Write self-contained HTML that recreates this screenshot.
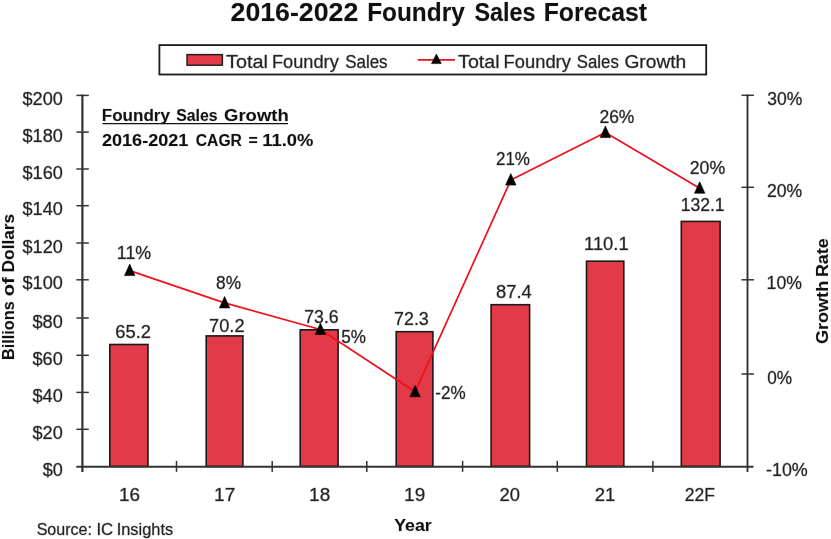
<!DOCTYPE html>
<html lang="en"><head><meta charset="utf-8"><title>2016-2022 Foundry Sales Forecast</title>
<style>html,body{margin:0;padding:0;background:#fff}body{width:831px;height:539px;overflow:hidden}svg{display:block}text{font-family:"Liberation Sans",sans-serif;fill:#222;stroke:#222;stroke-opacity:.3;stroke-width:.9px;stroke-linejoin:round}.b{font-weight:bold;fill:#111;stroke:#111;stroke-opacity:.12}</style></head><body>
<svg width="831" height="539" viewBox="0 0 831 539">
<rect width="831" height="539" fill="#fff"/>
<text y="20.5" font-size="25.20" class="b"><tspan x="230.57" textLength="127.70" lengthAdjust="spacingAndGlyphs">2016-2022</tspan> <tspan x="367.15" textLength="97.62" lengthAdjust="spacingAndGlyphs">Foundry</tspan> <tspan x="474.50" textLength="61.06" lengthAdjust="spacingAndGlyphs">Sales</tspan> <tspan x="543.73" textLength="103.41" lengthAdjust="spacingAndGlyphs">Forecast</tspan></text>
<rect x="159.4" y="45.1" width="546.8" height="29.4" fill="#fff" stroke="#1a1a1a" stroke-width="1.8"/>
<rect x="187" y="54.6" width="35.4" height="10.6" fill="#e23a48" stroke="#1a1a1a" stroke-width="1.4"/>
<text y="67.8" font-size="17.60"><tspan x="226.05" textLength="41.88" lengthAdjust="spacingAndGlyphs">Total</tspan> <tspan x="271.90" textLength="66.87" lengthAdjust="spacingAndGlyphs">Foundry</tspan> <tspan x="345.24" textLength="42.34" lengthAdjust="spacingAndGlyphs">Sales</tspan></text>
<line x1="417.8" y1="59.9" x2="455" y2="59.9" stroke="#f0101c" stroke-width="1.7"/>
<path d="M436.4 54.1 L441.3 63.6 L431.5 63.6 Z" fill="#000" stroke="#000" stroke-width="0.6" stroke-linejoin="round"/>
<text y="67.8" font-size="17.60"><tspan x="458.06" textLength="41.57" lengthAdjust="spacingAndGlyphs">Total</tspan> <tspan x="503.59" textLength="67.28" lengthAdjust="spacingAndGlyphs">Foundry</tspan> <tspan x="576.85" textLength="41.92" lengthAdjust="spacingAndGlyphs">Sales</tspan> <tspan x="624.44" textLength="61.77" lengthAdjust="spacingAndGlyphs">Growth</tspan></text>
<rect x="109.80" y="344.50" width="38.20" height="121.90" fill="#e23a48" stroke="#1a1a1a" stroke-width="1.6"/>
<rect x="206.20" y="335.90" width="36.70" height="130.50" fill="#e23a48" stroke="#1a1a1a" stroke-width="1.6"/>
<rect x="300.20" y="329.80" width="37.90" height="136.60" fill="#e23a48" stroke="#1a1a1a" stroke-width="1.6"/>
<rect x="396.20" y="331.70" width="36.70" height="134.70" fill="#e23a48" stroke="#1a1a1a" stroke-width="1.6"/>
<rect x="491.10" y="304.70" width="38.50" height="161.70" fill="#e23a48" stroke="#1a1a1a" stroke-width="1.6"/>
<rect x="586.50" y="261.20" width="37.30" height="205.20" fill="#e23a48" stroke="#1a1a1a" stroke-width="1.6"/>
<rect x="681.30" y="221.40" width="38.80" height="245.00" fill="#e23a48" stroke="#1a1a1a" stroke-width="1.6"/>
<g stroke="#333" stroke-width="1.9" fill="none">
<line x1="82.4" y1="94.4" x2="82.4" y2="471.9" stroke-width="2.2"/>
<line x1="76.4" y1="466.7" x2="753.5" y2="466.7"/>
<line x1="747.5" y1="94.4" x2="747.5" y2="471.9" stroke-width="1.9"/>
</g><g stroke="#333" stroke-width="1.5" fill="none">
<line x1="76.4" y1="95.4" x2="88.8" y2="95.4"/>
<line x1="76.4" y1="132.1" x2="88.8" y2="132.1"/>
<line x1="76.4" y1="169.0" x2="88.8" y2="169.0"/>
<line x1="76.4" y1="205.7" x2="88.8" y2="205.7"/>
<line x1="76.4" y1="243.0" x2="88.8" y2="243.0"/>
<line x1="76.4" y1="279.8" x2="88.8" y2="279.8"/>
<line x1="76.4" y1="318.0" x2="88.8" y2="318.0"/>
<line x1="76.4" y1="355.3" x2="88.8" y2="355.3"/>
<line x1="76.4" y1="392.4" x2="88.8" y2="392.4"/>
<line x1="76.4" y1="429.3" x2="88.8" y2="429.3"/>
<line x1="741.5" y1="95.3" x2="753.9" y2="95.3"/>
<line x1="741.5" y1="187.3" x2="753.9" y2="187.3"/>
<line x1="741.5" y1="279.8" x2="753.9" y2="279.8"/>
<line x1="741.5" y1="374.0" x2="753.9" y2="374.0"/>
<line x1="176.5" y1="460.9" x2="176.5" y2="471.9"/>
<line x1="272.2" y1="460.9" x2="272.2" y2="471.9"/>
<line x1="366.8" y1="460.9" x2="366.8" y2="471.9"/>
<line x1="462.6" y1="460.9" x2="462.6" y2="471.9"/>
<line x1="557.3" y1="460.9" x2="557.3" y2="471.9"/>
<line x1="652.9" y1="460.9" x2="652.9" y2="471.9"/>
</g>
<text x="22.52" y="104.9" font-size="17.60" textLength="40.30" lengthAdjust="spacingAndGlyphs">$200</text>
<text x="22.52" y="141.6" font-size="17.60" textLength="40.30" lengthAdjust="spacingAndGlyphs">$180</text>
<text x="22.52" y="178.5" font-size="17.60" textLength="40.30" lengthAdjust="spacingAndGlyphs">$160</text>
<text x="22.52" y="215.2" font-size="17.60" textLength="40.30" lengthAdjust="spacingAndGlyphs">$140</text>
<text x="22.52" y="252.5" font-size="17.60" textLength="40.30" lengthAdjust="spacingAndGlyphs">$120</text>
<text x="22.52" y="289.3" font-size="17.60" textLength="40.30" lengthAdjust="spacingAndGlyphs">$100</text>
<text x="32.52" y="327.5" font-size="17.60" textLength="30.28" lengthAdjust="spacingAndGlyphs">$80</text>
<text x="32.52" y="364.8" font-size="17.60" textLength="30.28" lengthAdjust="spacingAndGlyphs">$60</text>
<text x="32.52" y="401.9" font-size="17.60" textLength="30.28" lengthAdjust="spacingAndGlyphs">$40</text>
<text x="32.52" y="438.8" font-size="17.60" textLength="30.28" lengthAdjust="spacingAndGlyphs">$20</text>
<text x="42.72" y="475.8" font-size="17.60" textLength="20.10" lengthAdjust="spacingAndGlyphs">$0</text>
<text x="767.24" y="104.9" font-size="17.60" textLength="35.05" lengthAdjust="spacingAndGlyphs">30%</text>
<text x="767.02" y="196.9" font-size="17.60" textLength="35.28" lengthAdjust="spacingAndGlyphs">20%</text>
<text x="766.58" y="289.4" font-size="17.60" textLength="35.32" lengthAdjust="spacingAndGlyphs">10%</text>
<text x="767.21" y="383.6" font-size="17.60" textLength="24.90" lengthAdjust="spacingAndGlyphs">0%</text>
<text x="765.99" y="475.9" font-size="17.60" textLength="41.82" lengthAdjust="spacingAndGlyphs">-10%</text>
<text x="119.09" y="501.2" font-size="17.60" textLength="21.07" lengthAdjust="spacingAndGlyphs">16</text>
<text x="214.09" y="501.2" font-size="17.60" textLength="21.23" lengthAdjust="spacingAndGlyphs">17</text>
<text x="309.12" y="501.2" font-size="17.60" textLength="21.07" lengthAdjust="spacingAndGlyphs">18</text>
<text x="404.13" y="501.2" font-size="17.60" textLength="21.12" lengthAdjust="spacingAndGlyphs">19</text>
<text x="499.64" y="501.2" font-size="17.60" textLength="20.45" lengthAdjust="spacingAndGlyphs">20</text>
<text x="594.65" y="501.2" font-size="17.60" textLength="20.65" lengthAdjust="spacingAndGlyphs">21</text>
<text x="684.82" y="501.2" font-size="17.60" textLength="30.19" lengthAdjust="spacingAndGlyphs">22F</text>
<polyline points="129.7,270.6 224.6,302.9 320.4,329.5 415.1,391.8 510.8,180.1 605.4,132.6 699.7,188.2" fill="none" stroke="#f0101c" stroke-width="1.7" stroke-linejoin="round"/>
<path d="M129.7 264.1 L134.9 275.6 L124.5 275.6 Z" fill="#000" stroke="#000" stroke-width="0.6" stroke-linejoin="round"/>
<path d="M224.6 296.4 L229.8 307.9 L219.4 307.9 Z" fill="#000" stroke="#000" stroke-width="0.6" stroke-linejoin="round"/>
<path d="M320.4 323.0 L325.6 334.5 L315.2 334.5 Z" fill="#000" stroke="#000" stroke-width="0.6" stroke-linejoin="round"/>
<path d="M415.1 385.3 L420.3 396.8 L409.9 396.8 Z" fill="#000" stroke="#000" stroke-width="0.6" stroke-linejoin="round"/>
<path d="M510.8 173.6 L516.0 185.1 L505.6 185.1 Z" fill="#000" stroke="#000" stroke-width="0.6" stroke-linejoin="round"/>
<path d="M605.4 126.1 L610.6 137.6 L600.2 137.6 Z" fill="#000" stroke="#000" stroke-width="0.6" stroke-linejoin="round"/>
<path d="M699.7 181.7 L704.9 193.2 L694.5 193.2 Z" fill="#000" stroke="#000" stroke-width="0.6" stroke-linejoin="round"/>
<text x="115.28" y="338.1" font-size="17.60" textLength="35.66" lengthAdjust="spacingAndGlyphs">65.2</text>
<text x="209.09" y="331.8" font-size="17.60" textLength="35.45" lengthAdjust="spacingAndGlyphs">70.2</text>
<text x="304.32" y="323.0" font-size="17.60" textLength="34.25" lengthAdjust="spacingAndGlyphs">73.6</text>
<text x="394.11" y="324.9" font-size="17.60" textLength="34.67" lengthAdjust="spacingAndGlyphs">72.3</text>
<text x="496.02" y="297.5" font-size="17.60" textLength="35.71" lengthAdjust="spacingAndGlyphs">87.4</text>
<text x="584.02" y="249.8" font-size="17.60" textLength="44.67" lengthAdjust="spacingAndGlyphs">110.1</text>
<text x="680.68" y="211.2" font-size="17.60" textLength="43.95" lengthAdjust="spacingAndGlyphs">132.1</text>
<text x="116.86" y="259.2" font-size="17.60" textLength="34.36" lengthAdjust="spacingAndGlyphs">11%</text>
<text x="216.07" y="288.5" font-size="17.60" textLength="24.94" lengthAdjust="spacingAndGlyphs">8%</text>
<text x="341.32" y="342.5" font-size="17.60" textLength="24.69" lengthAdjust="spacingAndGlyphs">5%</text>
<text x="435.23" y="398.5" font-size="17.60" textLength="30.34" lengthAdjust="spacingAndGlyphs">-2%</text>
<text x="495.95" y="165.0" font-size="17.60" textLength="34.03" lengthAdjust="spacingAndGlyphs">21%</text>
<text x="599.43" y="122.7" font-size="17.60" textLength="34.97" lengthAdjust="spacingAndGlyphs">26%</text>
<text x="689.71" y="174.1" font-size="17.60" textLength="35.49" lengthAdjust="spacingAndGlyphs">20%</text>
<text y="120.6" font-size="16.80" class="b"><tspan x="101.75" textLength="68.17" lengthAdjust="spacingAndGlyphs">Foundry</tspan> <tspan x="176.22" textLength="41.42" lengthAdjust="spacingAndGlyphs">Sales</tspan> <tspan x="224.06" textLength="64.64" lengthAdjust="spacingAndGlyphs">Growth</tspan></text>
<line x1="102.4" y1="123.6" x2="288" y2="123.6" stroke="#111" stroke-width="1.4"/>
<text y="145.5" font-size="16.80" class="b"><tspan x="101.97" textLength="86.37" lengthAdjust="spacingAndGlyphs">2016-2021</tspan> <tspan x="195.77" textLength="46.17" lengthAdjust="spacingAndGlyphs">CAGR</tspan> <tspan x="248.52" textLength="9.34" lengthAdjust="spacingAndGlyphs">=</tspan> <tspan x="262.25" textLength="51.06" lengthAdjust="spacingAndGlyphs">11.0%</tspan></text>
<text y="0.0" font-size="16.80" class="b" transform="translate(14.3 359.3) rotate(-90)"><tspan x="-0.70" textLength="58.67" lengthAdjust="spacingAndGlyphs">Billions</tspan> <tspan x="63.00" textLength="18.98" lengthAdjust="spacingAndGlyphs">of</tspan> <tspan x="86.93" textLength="58.56" lengthAdjust="spacingAndGlyphs">Dollars</tspan></text>
<text y="0.0" font-size="16.80" class="b" transform="translate(828.4 343.7) rotate(-90)"><tspan x="-0.42" textLength="63.30" lengthAdjust="spacingAndGlyphs">Growth</tspan> <tspan x="66.59" textLength="38.79" lengthAdjust="spacingAndGlyphs">Rate</tspan></text>
<text x="394.19" y="530.9" font-size="17.40" textLength="37.55" lengthAdjust="spacingAndGlyphs" class="b">Year</text>
<text y="535.2" font-size="16.50"><tspan x="36.68" textLength="55.29" lengthAdjust="spacingAndGlyphs">Source:</tspan> <tspan x="96.45" textLength="16.78" lengthAdjust="spacingAndGlyphs">IC</tspan> <tspan x="116.68" textLength="56.58" lengthAdjust="spacingAndGlyphs">Insights</tspan></text>
</svg></body></html>
